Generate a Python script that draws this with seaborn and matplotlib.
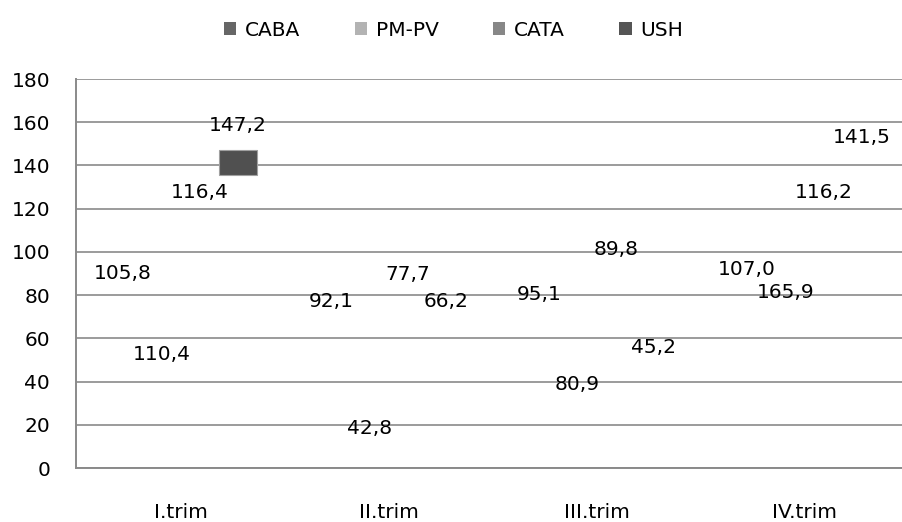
import matplotlib
matplotlib.use("Agg")
import matplotlib.pyplot as plt
from matplotlib.patches import Patch
import numpy as np
import pandas as pd
import seaborn as sns

# Quarterly index per region
quarters = ["I.trim", "II.trim", "III.trim", "IV.trim"]
series = ["CABA", "PM-PV", "CATA", "USH"]
caba = [105.8, 92.1, 95.1, 107.0]
pmpv = [110.4, 42.8, 80.9, 165.9]
cata = [116.4, 77.7, 89.8, 116.2]
ush = [147.2, 66.2, 45.2, 141.5]

# Height (in axis units) at which each value label sits
caba_label_y = [91.2, 78.2, 81.4, 93.0]
pmpv_label_y = [53.7, 19.4, 39.8, 82.4]
cata_label_y = [128.6, 90.7, 102.3, 128.6]
ush_label_y = [159.6, 78.2, 56.9, 154.1]

y_ticks = [0, 20, 40, 60, 80, 100, 120, 140, 160, 180]

colors = ["#666666", "#b3b3b3", "#878787", "#555555"]

values = {"CABA": caba, "PM-PV": pmpv, "CATA": cata, "USH": ush}
label_y = {"CABA": caba_label_y, "PM-PV": pmpv_label_y,
           "CATA": cata_label_y, "USH": ush_label_y}

df = pd.DataFrame(
    [(q, s, values[s][i]) for s in series for i, q in enumerate(quarters)],
    columns=["trim", "serie", "valor"],
)

sns.set_theme(style="white")
plt.rcParams["font.family"] = ["DejaVu Sans"]
plt.rcParams["text.color"] = "black"
FS = 14.5

fig = plt.figure(figsize=(9.02, 5.22), dpi=100)
ax = fig.add_axes([0.0848, 0.1034, 0.9224, 0.7452])

sns.barplot(data=df, x="trim", y="valor", hue="serie", order=quarters,
            hue_order=series, palette=colors, width=0.736, legend=False,
            ax=ax, saturation=1, zorder=3)

# Bars themselves carry no fill; only their value labels are shown
for patch in ax.patches:
    patch.set_alpha(0)

ax.set_xlim(-0.5, 3.5)
ax.set_ylim(0, 180)
ax.set_yticks(y_ticks)
ax.set_xlabel("")
ax.set_ylabel("")

grid_color = "#8a8a8a"
ax.yaxis.grid(True, color=grid_color, linewidth=1.2, zorder=0)
ax.xaxis.grid(False)
for side in ["top", "right"]:
    ax.spines[side].set_visible(False)
for side in ["left", "bottom"]:
    ax.spines[side].set_color(grid_color)
    ax.spines[side].set_linewidth(1.4)

ax.tick_params(axis="y", length=0, pad=19, labelsize=FS, labelcolor="black")
ax.tick_params(axis="x", length=0, pad=25, labelsize=FS, labelcolor="black")

# Value labels, centred over each bar
for container, s in zip(ax.containers, series):
    for i, bar in enumerate(container):
        xc = bar.get_x() + bar.get_width() / 2
        txt = f"{values[s][i]:.1f}".replace(".", ",")
        ax.annotate(txt, (xc, label_y[s][i]), xytext=(0, -2),
                    textcoords="offset points", ha="center", va="center",
                    fontsize=FS, color="black", zorder=5)

# Visible top fragment of the USH bar in the first quarter
band = 11.6
ush_bar = ax.containers[3][0]
ax.bar(ush_bar.get_x() + ush_bar.get_width() / 2, band,
       bottom=ush[0] - band, width=ush_bar.get_width(),
       color="#505050", edgecolor="#a0a0a0", linewidth=0.8, zorder=4)

handles = [Patch(facecolor=c, edgecolor="none", label=s)
           for c, s in zip(colors, series)]
fig.legend(handles=handles, loc="center", bbox_to_anchor=(0.503, 1 - 30 / 522),
           ncol=4, frameon=False, fontsize=FS, handlelength=0.6,
           handleheight=0.6, handletextpad=0.45, columnspacing=2.7,
           labelcolor="black")

fig.savefig("out.png", dpi=100)
